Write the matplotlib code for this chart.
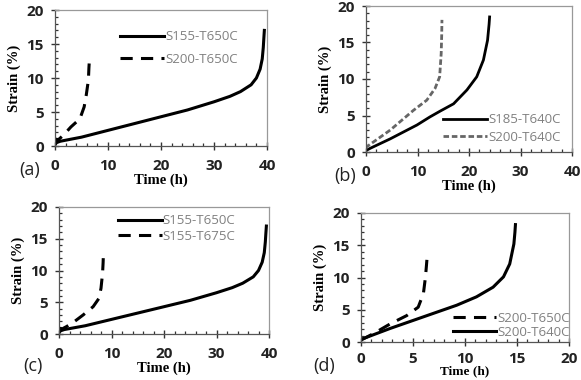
import numpy as np
import matplotlib.pyplot as plt
from matplotlib.ticker import MultipleLocator

# (a) / (c) S155-T650C
t_s155_650 = [0, 0.3, 1, 3, 5, 10, 15, 20, 25, 30, 33, 35, 37, 38, 38.7, 39.1, 39.3, 39.4, 39.5]
e_s155_650 = [0.2, 0.5, 0.7, 1.0, 1.3, 2.3, 3.3, 4.3, 5.3, 6.5, 7.3, 8.0, 9.0, 10.0, 11.3, 12.8, 14.5, 15.8, 17.0]
# (a) S200-T650C
t_a_s200 = [0, 0.3, 0.6, 1.6, 3, 4.7, 5.5, 5.9, 6.3, 6.4, 6.5]
e_a_s200 = [0.2, 1.0, 0.9, 1.6, 2.8, 4.0, 5.75, 7.5, 9.7, 11.5, 12.8]
# (b)
t_s185_640 = [0, 0.8, 4.7, 9.9, 12.4, 14.4, 17, 19.6, 21.5, 22.8, 23.6, 23.9, 24.0]
e_s185_640 = [0.2, 0.5, 1.8, 3.7, 4.8, 5.6, 6.6, 8.5, 10.3, 12.6, 15.3, 17.5, 18.5]
t_b_s200 = [0, 0.1, 4.7, 9.2, 11.8, 13.4, 14.3, 14.6, 14.7, 14.75]
e_b_s200 = [0.5, 0.7, 3.0, 5.7, 7.1, 8.7, 10.3, 13.5, 16.0, 18.1]
# (c) S155-T675C
t_s155_675 = [0, 0.3, 0.6, 1.5, 3, 4.6, 6.5, 7.6, 8.0, 8.3, 8.4, 8.45]
e_s155_675 = [0.4, 0.9, 0.8, 1.2, 2.0, 3.0, 4.3, 5.6, 7.2, 9.6, 11.2, 12.4]
# (d)
t_d_s200_640 = [0, 2.8, 6, 9.2, 11.1, 12.7, 13.7, 14.3, 14.7, 14.8, 14.85]
e_d_s200_640 = [0.4, 2.1, 3.9, 5.7, 7.0, 8.5, 10.1, 12.1, 15.2, 17.0, 18.2]
t_d_s200_650 = [0, 1.2, 2.8, 4.4, 5.5, 6.0, 6.2, 6.3, 6.35]
e_d_s200_650 = [0.3, 1.3, 2.8, 4.1, 5.4, 7.5, 10.1, 12.0, 13.0]

panel_labels = ['(a)', '(b)', '(c)', '(d)']

W, H = 581, 380
fig = plt.figure(figsize=(W / 100, H / 100), dpi=100)

serif = 'Liberation Serif'
sans = 'Open Sans'
long_dash = (0, (4, 2.7))


def make_axes(left, right, top, bottom, xmax, xmajor, xminor, xpad=6, xlabelpad=1, xlabelsize=10.5):
    ax = fig.add_axes([left / W, 1 - bottom / H, (right - left) / W, (bottom - top) / H])
    ax.set_xlim(0, xmax)
    ax.set_ylim(0, 20)
    ax.xaxis.set_major_locator(MultipleLocator(xmajor))
    ax.xaxis.set_minor_locator(MultipleLocator(xminor))
    ax.yaxis.set_major_locator(MultipleLocator(5))
    ax.yaxis.set_minor_locator(MultipleLocator(1))
    ax.tick_params(which='both', color='#333333')
    ax.tick_params(which='major', direction='inout', length=6, width=1.0, labelsize=11)
    ax.tick_params(which='minor', direction='in', length=2.5, width=0.9)
    ax.tick_params(axis='x', which='major', pad=xpad)
    ax.tick_params(axis='y', which='major', pad=5)
    for lab in ax.get_xticklabels() + ax.get_yticklabels():
        lab.set_fontweight('bold')
        lab.set_fontfamily(sans)
        lab.set_color('#222222')
    for s in ax.spines.values():
        s.set_color('#999999')
        s.set_linewidth(0.9)
    ax.spines['left'].set_color('#555555')
    ax.spines['bottom'].set_color('#555555')
    ax.set_xlabel('Time (h)', fontfamily=serif, fontweight='bold', fontsize=xlabelsize, labelpad=xlabelpad)
    ax.set_ylabel('Strain (%)', fontfamily=serif, fontweight='bold', fontsize=10.5, labelpad=4)
    return ax


def legend(ax, anchor, spacing):
    leg = ax.legend(loc='center left', bbox_to_anchor=anchor, frameon=False,
                    handlelength=3.3, handletextpad=0.1, borderpad=0,
                    borderaxespad=0, labelspacing=spacing,
                    prop={'family': sans, 'size': 9.5})
    for txt in leg.get_texts():
        txt.set_color('#808080')


# (a)
ax = make_axes(55, 267, 10, 146, 40, 10, 2)
ax.plot(t_s155_650, e_s155_650, color='black', lw=2.2, label='S155-T650C')
ax.plot(t_a_s200, e_a_s200, color='black', lw=2.2, ls=long_dash, label='S200-T650C')
legend(ax, (0.307, 0.72), 0.75)

# (b)
ax = make_axes(366, 572, 6, 152, 40, 10, 2)
ax.plot(t_s185_640, e_s185_640, color='black', lw=2.0, label='S185-T640C')
ax.plot(t_b_s200, e_b_s200, color='#666666', lw=2.0, ls=(0, (2, 1)), label='S200-T640C')
legend(ax, (0.374, 0.16), 0.35)

# (c)
ax = make_axes(59, 269, 207, 334, 40, 10, 2)
ax.plot(t_s155_650, e_s155_650, color='black', lw=2.2, label='S155-T650C')
ax.plot(t_s155_675, e_s155_675, color='black', lw=2.2, ls=long_dash, label='S155-T675C')
legend(ax, (0.281, 0.83), 0.2)

# (d) -- label sits right at the bottom edge, as in the source figure
ax = make_axes(361, 569, 213, 342, 20, 5, 1, xpad=4, xlabelpad=0, xlabelsize=9.5)
ax.plot(t_d_s200_650, e_d_s200_650, color='black', lw=2.2, ls=long_dash, label='S200-T650C')
ax.plot(t_d_s200_640, e_d_s200_640, color='black', lw=2.2, label='S200-T640C')
legend(ax, (0.442, 0.13), 0.05)

# panel labels
for lab, (x, y) in zip(panel_labels, [(30, 170), (345, 176), (33, 366), (324, 366)]):
    fig.text(x / W, 1 - y / H, lab, fontfamily=sans, fontsize=13,
             ha='center', va='center', color='#222222')

fig.savefig('out.png', dpi=100)
